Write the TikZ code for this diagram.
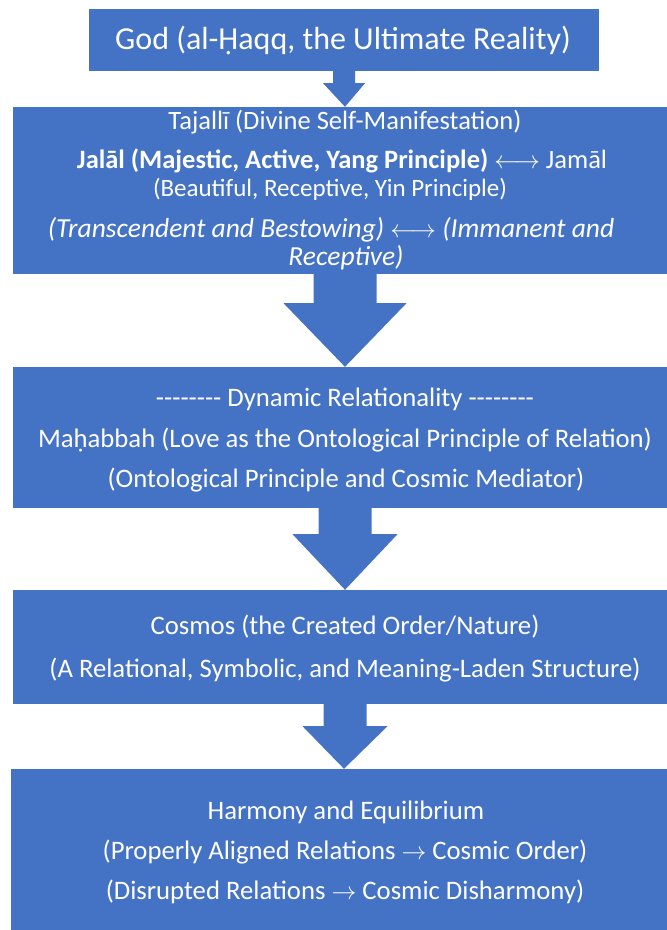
\documentclass[tikz,border=0pt]{standalone}
\usepackage{fontspec}
\setmainfont{Carlito}
\usetikzlibrary{calc}
\definecolor{boxblue}{HTML}{4472C4}
\newcommand{\blockarr}[5]{%
  \fill[boxblue] ($(#1.south)+(-#3,-1)$) -- ($(#1.south)+(-#3,#5)$) -- ($(#1.south)+(-#4,#5)$)
   -- (#2.north) -- ($(#1.south)+(#4,#5)$) -- ($(#1.south)+(#3,#5)$) -- ($(#1.south)+(#3,-1)$) -- cycle;}
\begin{document}
\begin{tikzpicture}[x=1pt,y=-1pt,
  flowbox/.style={rectangle, fill=boxblue, draw=none, inner sep=0pt, anchor=center},
  txt/.style={text=white, inner sep=0pt, anchor=center},
  ftitle/.style={font=\fontsize{32}{38}\selectfont},
  fsmall/.style={font=\fontsize{26.5}{32}\selectfont},
  fbeau/.style={font=\fontsize{25}{30}\selectfont},
  fital/.style={font=\fontsize{27.5}{33}\selectfont\itshape},
  fnorm/.style={font=\fontsize{26.7}{32}\selectfont}]
\useasboundingbox (0,0) rectangle (667,930);
\begin{scope}
\clip (0,0) rectangle (667,930);
\node[flowbox, minimum width=510pt, minimum height=62pt] (b1) at (344,40) {};
\node[flowbox, minimum width=664pt, minimum height=167pt] (b2) at (345,190.5) {};
\node[flowbox, minimum width=664pt, minimum height=141pt] (b3) at (345,437.5) {};
\node[flowbox, minimum width=664pt, minimum height=114pt] (b4) at (345,647) {};
\node[flowbox, minimum width=666pt, minimum height=201pt] (b5) at (344,869.5) {};
\blockarr{b1}{b2}{11}{21}{12}
\blockarr{b2}{b3}{31.5}{61.5}{29}
\blockarr{b3}{b4}{26.5}{52.5}{26}
\blockarr{b4}{b5}{21.5}{42.5}{22}
\end{scope}
\node[txt, ftitle] (t1) at (343,40) {God (al-Ḥaqq, the Ultimate Reality)};
\node[txt, fsmall] (t21) at (345,122) {Tajallī (Divine Self-Manifestation)};
\node[txt, fsmall] (t22) at (342,161) {\textbf{Jalāl (Majestic, Active, Yang Principle)} $\longleftrightarrow$ Jamāl};
\node[txt, fbeau] (t23) at (330,189) {(Beautiful, Receptive, Yin Principle)};
\node[txt, fital] (t24) at (331,230) {(Transcendent and Bestowing) $\longleftrightarrow$ (Immanent and};
\node[txt, fital] (t25) at (346,258) {Receptive)};
\node[txt, fnorm] (t31) at (345,399) {-{}-{}-{}-{}-{}-{}-{}- Dynamic Relationality -{}-{}-{}-{}-{}-{}-{}-};
\node[txt, fnorm] (t32) at (345,440) {Maḥabbah (Love as the Ontological Principle of Relation)};
\node[txt, fnorm] (t33) at (346,480) {(Ontological Principle and Cosmic Mediator)};
\node[txt, fnorm] (t41) at (345,627) {Cosmos (the Created Order/Nature)};
\node[txt, fnorm] (t42) at (345,670) {(A Relational, Symbolic, and Meaning-Laden Structure)};
\node[txt, fnorm] (t51) at (346,812) {Harmony and Equilibrium};
\node[txt, fnorm] (t52) at (345,852) {(Properly Aligned Relations $\rightarrow$ Cosmic Order)};
\node[txt, fnorm] (t53) at (345,892) {(Disrupted Relations $\rightarrow$ Cosmic Disharmony)};
\end{tikzpicture}
\end{document}
